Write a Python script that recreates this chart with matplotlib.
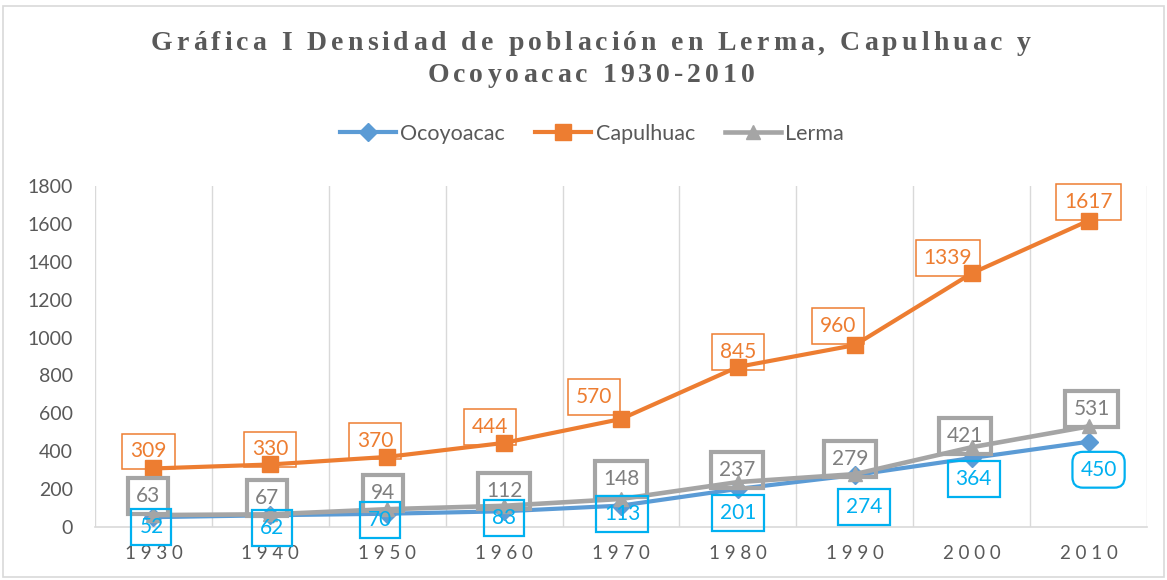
import numpy as np
import matplotlib.pyplot as plt
from matplotlib.patches import Rectangle
from matplotlib.font_manager import FontProperties

# Data
years = ['1930', '1940', '1950', '1960', '1970', '1980', '1990', '2000', '2010']
ocoyoacac = [52, 62, 70, 83, 113, 201, 274, 364, 450]
capulhuac = [309, 330, 370, 444, 570, 845, 960, 1339, 1617]
lerma = [63, 67, 94, 112, 148, 237, 279, 421, 531]
series_names = ['Ocoyoacac', 'Capulhuac', 'Lerma']
title_lines = ['Gráfica I Densidad de población en Lerma, Capulhuac y',
               'Ocoyoacac 1930-2010']

# Label offsets from each point, in pixels (x right, y up)
oco_off = [(-2, -10), (2, -13), (-7, -6), (0, -7), (1, -8), (0, -24), (9, -32), (2, -21), (10, -28)]
cap_off = [(-5, 17), (0, 15), (-12, 16), (-14, 16), (-27, 22), (0, 15), (-17, 19), (-24, 15), (0, 19)]
ler_off = [(-5, 19), (-3, 16), (-4, 16), (0, 15), (0, 20), (-1, 12), (-5, 15), (-7, 11), (3, 17)]

BLUE = '#5B9BD5'
ORANGE = '#ED7D31'
GRAY = '#A5A5A5'
CYAN = '#00B0F0'
TXT = '#595959'
GRID = '#D9D9D9'
NUM_FONT = ['Lato', 'DejaVu Sans']

W, H = 1167, 580
fig = plt.figure(figsize=(W / 100, H / 100), dpi=100)
ax = fig.add_axes([95 / W, 1 - 527 / H, (1147 - 95) / W, (527 - 186) / H])

x = np.arange(len(years))
ax.plot(x, ocoyoacac, color=BLUE, lw=3.0, marker='D', ms=9, label=series_names[0], zorder=3)
ax.plot(x, capulhuac, color=ORANGE, lw=3.0, marker='s', ms=11, label=series_names[1], zorder=3)
ax.plot(x, lerma, color=GRAY, lw=3.3, marker='^', ms=10.5, label=series_names[2], zorder=4)

ax.set_xlim(-0.5, len(years) - 0.5)
ax.set_ylim(0, 1800)
ax.set_yticks(np.arange(0, 1801, 200))
ax.set_xticks(x)
ax.set_xticklabels([' '.join(y) for y in years], family=NUM_FONT, fontsize=13.5, color=TXT)
for lbl in ax.get_yticklabels():
    lbl.set_family(NUM_FONT)
ax.tick_params(axis='y', length=0, pad=16, labelsize=14, labelcolor=TXT)
ax.tick_params(axis='x', length=0, pad=13)

# vertical gridlines between categories
for b in np.arange(-0.5, len(years), 1.0):
    ax.axvline(b, color=GRID, lw=1, zorder=0)
for s in ['top', 'right', 'left']:
    ax.spines[s].set_visible(False)
ax.spines['bottom'].set_color(GRID)
ax.spines['bottom'].set_linewidth(1.2)


def add_labels(vals, offs, tcolor, ecolor, lw, last_round=False):
    for i, (v, o) in enumerate(zip(vals, offs)):
        if last_round and i == len(vals) - 1:
            style = 'round,pad=0.38,rounding_size=0.5'
        else:
            style = 'square,pad=0.38'
        ax.annotate(str(v), (x[i], v), xytext=o, textcoords='offset pixels',
                    ha='center', va='center', fontsize=15, color=tcolor,
                    family=NUM_FONT, zorder=6,
                    bbox=dict(boxstyle=style, fc='none', ec=ecolor, lw=lw))


add_labels(capulhuac, cap_off, ORANGE, ORANGE, 1.1)
add_labels(lerma, ler_off, '#7F7F7F', GRAY, 3.0)
add_labels(ocoyoacac, oco_off, CYAN, CYAN, 1.6, last_round=True)

# legend
fig.legend(loc='center', bbox_to_anchor=(592 / W, 1 - 134 / H), ncol=3, frameon=False,
           handlelength=2.6, handletextpad=0.2, columnspacing=1.4,
           prop=FontProperties(family=NUM_FONT, size=15.5), labelcolor=TXT)

# title with letter spacing
renderer = fig.canvas.get_renderer()
tprop = FontProperties(family='Liberation Serif', weight='bold', size=20)


def width_px(s):
    w1 = renderer.get_text_width_height_descent(s + 'l', tprop, ismath=False)[0]
    w0 = renderer.get_text_width_height_descent('l', tprop, ismath=False)[0]
    return w1 - w0


natural = width_px(title_lines[0])
track = (880 - natural) / (len(title_lines[0]) - 1)
for line, ypx in zip(title_lines, [44, 75]):
    total = width_px(line) + track * (len(line) - 1)
    x0 = 591 - total / 2
    for i, ch in enumerate(line):
        xp = x0 + width_px(line[:i]) + track * i
        fig.text(xp / W, 1 - ypx / H, ch, fontproperties=tprop, color=TXT,
                 ha='left', va='center')

# outer chart border
fig.patches.append(Rectangle((3 / W, 3 / H), (W - 6) / W, (H - 9) / H,
                             transform=fig.transFigure, fill=False,
                             ec=GRID, lw=1.2))

fig.savefig('out.png', dpi=100)
